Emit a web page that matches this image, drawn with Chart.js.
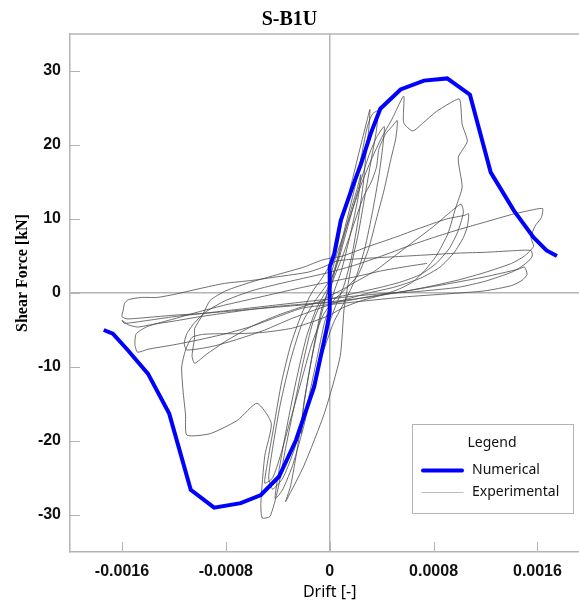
<!DOCTYPE html>
<html>
<head>
<meta charset="utf-8">
<script src="https://cdn.jsdelivr.net/npm/chart.js@4.4.0/dist/chart.umd.min.js"></script>
<style>
  html, body { margin: 0; padding: 0; background: #fff; }
</style>
</head>
<body>
<canvas id="chart" width="579" height="606"></canvas>
<script>
// numerical backbone (drift [-], shear force [kN])
const numDrift = [-0.00174, -0.00167, -0.001556, -0.0014, -0.001236, -0.00107, -0.00089, -0.000685, -0.00053, -0.00039, -0.00026, -0.00012, -0.00002, 0, 0, 0.000035, 0.000085, 0.000175, 0.00024, 0.000315, 0.00039, 0.000546, 0.000726, 0.000905, 0.00108, 0.00124, 0.00142, 0.00157, 0.00167, 0.00175];
const numForce = [-5.0, -5.5, -7.7, -10.9, -16.3, -26.6, -29.0, -28.4, -27.3, -24.8, -19.9, -12.7, -4.6, -2.5, 3.5, 5.3, 9.8, 14.3, 17.4, 21.5, 24.9, 27.5, 28.7, 29.0, 26.8, 16.3, 11.1, 7.5, 5.75, 5.0];

// experimental hysteresis path, [drift, force] in recorded order
const expPath = [
  [0, 0], [0.00004, 3], [0.0001, 7], [0.00016, 11], [0.00021, 14], [0.00024, 16], [0.00022, 13], [0.00016, 8], [0.00009, 3], [0.00003, 0],
  [-0.00004, -4], [-0.0001, -9], [-0.00016, -14], [-0.0002, -17], [-0.00022, -19], [-0.0002, -15], [-0.00014, -9], [-0.00008, -4], [-0.00002, 0],
  [0.00005, 4], [0.00012, 9], [0.00019, 14], [0.00025, 19], [0.00029, 22.5], [0.00033, 24.2], [0.00037, 24.6], [0.00036, 22], [0.00032, 18],
  [0.00027, 13], [0.00022, 8], [0.00017, 4], [0.00013, 0], [0.00011, -2.3], [0.00008, -8.6], [-0.00004, -16.2], [-0.0002, -23.4], [-0.00033, -27.9],
  [-0.00034, -28.2], [-0.0003, -26], [-0.00024, -20], [-0.00018, -13], [-0.00012, -7], [-0.00006, -2], [0.00002, 1.5],
  [0.0001, 5], [0.00018, 9], [0.00026, 13], [0.00032, 15], [0.00036, 17], [0.00038, 19.5], [0.00043, 21.5], [0.00048, 22.5], [0.00052, 23.3],
  [0.00051, 21], [0.00047, 18], [0.00042, 14], [0.00036, 10], [0.0003, 6], [0.00022, 2.5], [0.00012, 0.5], [0.00003, -1], [-0.00005, -3],
  [-0.00014, -7], [-0.00022, -12], [-0.0003, -17], [-0.00038, -22], [-0.00044, -25], [-0.0005, -25.7], [-0.00048, -23], [-0.00043, -18],
  [-0.00037, -12], [-0.0003, -7], [-0.00022, -3], [-0.00014, 0], [-0.00006, 2],
  [0.00004, 5], [0.0001, 10], [0.00017, 15], [0.00024, 20], [0.00029, 23.5], [0.00031, 24.8], [0.0003, 22], [0.00028, 19], [0.00026, 15],
  [0.00022, 10], [0.00017, 5], [0.00011, 1], [0.00004, -2], [-0.00004, -6], [-0.00012, -12], [-0.0002, -18], [-0.00028, -23], [-0.00036, -26.5],
  [-0.00042, -27.8], [-0.0004, -25], [-0.00034, -19], [-0.00026, -12], [-0.00018, -6], [-0.0001, -2], [-0.00002, 0.5],
  [0.00006, 4], [0.00014, 9], [0.00022, 14], [0.0003, 18.5], [0.00036, 21], [0.00042, 22.5], [0.00041, 20], [0.00038, 16], [0.00033, 11],
  [0.00027, 6], [0.0002, 2], [0.00012, -1], [0.00003, -4], [-0.00007, -9], [-0.00017, -15], [-0.00027, -21], [-0.00036, -25], [-0.00044, -26.5],
  [-0.00047, -25], [-0.00044, -21], [-0.00038, -15], [-0.0003, -9], [-0.00021, -4], [-0.00011, -1], [-0.00001, 1.5],
  [0.00005, 5], [0.00015, 10], [0.00025, 15], [0.00032, 18], [0.0004, 21], [0.00048, 23.5], [0.00057, 26.6], [0.00057, 23], [0.00064, 21.9],
  [0.00072, 23], [0.00082, 24.5], [0.00092, 25.6], [0.001, 26.2], [0.00102, 22.8], [0.00106, 20.5], [0.00099, 18.3], [0.00102, 14.3],
  [0.00097, 11.5], [0.00091, 8], [0.00082, 5], [0.00073, 3], [0.00064, 1.5], [0.00053, 0.5], [0.0004, -0.3], [0.00025, -1], [0.0001, -2],
  [0, -3], [-0.00015, -4], [-0.0003, -4.8], [-0.0005, -5.3], [-0.0007, -5.5], [-0.00085, -5.5], [-0.00098, -5.6], [-0.00106, -6],
  [-0.00111, -7.7], [-0.00114, -10], [-0.00113, -13.1], [-0.00111, -16.5], [-0.0011, -19.2], [-0.00092, -19], [-0.00071, -17.2],
  [-0.00056, -14.9], [-0.00045, -17.6], [-0.0005, -22], [-0.00053, -28.4], [-0.00052, -30.4], [-0.00046, -30.2], [-0.0004, -26.6],
  [-0.00034, -21], [-0.00027, -15], [-0.0002, -9], [-0.00013, -4], [-0.00005, -1],
  [0.0001, 0.5], [0.0002, 1.5], [0.00035, 3], [0.0005, 5], [0.00065, 7], [0.0008, 9], [0.00092, 10.8], [0.00101, 12], [0.00103, 11],
  [0.00101, 9.5], [0.00098, 8], [0.00092, 6], [0.00082, 4], [0.0007, 2.5], [0.00055, 1.5], [0.0004, 0.8], [0.0002, 0], [0, -0.8],
  [-0.0002, -1.8], [-0.0004, -3], [-0.0006, -4.5], [-0.0008, -6.5], [-0.00095, -8.3], [-0.00104, -9.5], [-0.00106, -8.5], [-0.00104, -6],
  [-0.00104, -4.8], [-0.00098, -3], [-0.00092, -1], [-0.0008, 0.3], [-0.0006, 1.5], [-0.0004, 2.5], [-0.0002, 3.5], [-0.00005, 4.5],
  [0.0001, 5], [0.0003, 6.3], [0.0005, 7.5], [0.0007, 8.8], [0.0009, 10], [0.00104, 10.5], [0.00107, 10.7], [0.00106, 9], [0.00103, 7.5],
  [0.00096, 5.5], [0.00085, 3.5], [0.0007, 2], [0.0005, 0.8], [0.0003, 0], [0.0001, -1], [-0.0001, -2.2], [-0.0003, -3.5], [-0.0005, -5],
  [-0.0007, -6.2], [-0.0009, -7.2], [-0.0011, -7.7], [-0.00112, -6.8], [-0.0011, -5.5], [-0.00104, -4], [-0.00095, -2.5], [-0.0008, -1],
  [-0.0006, 0.3], [-0.0004, 1.2], [-0.0002, 2], [0, 2.8],
  [0.0002, 3.8], [0.0004, 5], [0.0006, 6.3], [0.0008, 7.5], [0.001, 8.6], [0.0012, 9.6], [0.0014, 10.6], [0.00158, 11.3], [0.00164, 11.4],
  [0.00163, 10.2], [0.00158, 9], [0.00155, 7.5], [0.00157, 6.3], [0.0015, 5], [0.0014, 4], [0.0012, 2.8], [0.001, 1.8], [0.0008, 1],
  [0.0006, 0.3], [0.0004, -0.3], [0.0002, -0.8], [0, -1.2], [-0.0002, -1.6], [-0.0004, -1.9], [-0.0006, -2.2], [-0.0008, -2.5], [-0.001, -2.8],
  [-0.0012, -3], [-0.0014, -3.3], [-0.00156, -3.5], [-0.0016, -3.2], [-0.00159, -2.3], [-0.00158, -1.4], [-0.00155, -0.9], [-0.00145, -0.6],
  [-0.00133, -0.6], [-0.0012, -0.2], [-0.001, 0.6], [-0.00081, 1.3], [-0.0006, 1.7], [-0.0004, 2.2], [-0.00017, 2.8], [-0.00005, 3.5], [0.00005, 4.3],
  [0.0002, 4.6], [0.0004, 4.8], [0.0006, 5], [0.0008, 5.2], [0.001, 5.4], [0.0012, 5.5], [0.0014, 5.7], [0.00155, 5.75], [0.00156, 5],
  [0.00153, 4.3], [0.00148, 3.6], [0.0014, 2.8], [0.0012, 1.6], [0.001, 0.8], [0.0008, 0.4], [0.0006, 0.1], [0.0004, -0.1], [0.0002, -0.4],
  [0, -0.8], [-0.0002, -1.2], [-0.0004, -1.6], [-0.0006, -2], [-0.0008, -2.4], [-0.001, -2.8], [-0.0012, -3.2], [-0.0014, -3.7], [-0.00158, -4.1],
  [-0.0016, -3.7], [-0.00155, -4.3], [-0.00148, -4.6], [-0.00135, -4.2], [-0.0012, -3.8], [-0.001, -3.2], [-0.0008, -2.7], [-0.0006, -2.2],
  [-0.0004, -1.8], [-0.0002, -1.5], [0.00008, -1.2], [0.0003, -0.5], [0.0006, 0.3], [0.0009, 1.2], [0.0012, 2.2], [0.00145, 3.2], [0.0015, 3.5],
  [0.00152, 2.5], [0.00148, 1.7], [0.0014, 1], [0.0012, 0.3], [0.001, 0], [0.0006, -0.5], [0.0002, -1.2], [-0.0002, -2], [-0.0004, -3.2],
  [-0.0006, -4.5], [-0.0008, -5.5], [-0.001, -6.3], [-0.0012, -7], [-0.0014, -7.6], [-0.00148, -8], [-0.0015, -7], [-0.00149, -5.5],
  [-0.0014, -4.5], [-0.0012, -3.5], [-0.001, -2.5], [-0.0008, -1.6], [-0.0006, -0.8], [-0.0004, 0], [-0.0002, 0.8], [0, 1.5], [0.0002, 2.2],
  [0.0004, 3], [0.0006, 3.6], [0.00075, 4]
];

const xTicks = [-0.0016, -0.0008, 0, 0.0008, 0.0016];
const xTickLabels = ['-0.0016', '-0.0008', '0', '0.0008', '0.0016'];
const yTicks = [-30, -20, -10, 0, 10, 20, 30];
const seriesNames = ['Numerical', 'Experimental'];

const axisGray = '#b4b4b4';
const numColor = '#0000ff';
const expColor = '#4a4a4a';

// top border, inward tick marks, axis titles and the boxed legend
const overlay = {
  id: 'overlay',
  afterDraw(chart) {
    const { ctx, chartArea: area } = chart;
    const xs = chart.scales.x, ys = chart.scales.y;
    ctx.save();
    ctx.strokeStyle = axisGray;
    ctx.lineWidth = 1.5;
    ctx.beginPath();
    ctx.moveTo(area.left, area.top);
    ctx.lineTo(area.right, area.top);
    ctx.stroke();

    ctx.lineWidth = 1;
    ctx.beginPath();
    xTicks.forEach(v => {
      const px = Math.round(xs.getPixelForValue(v)) + 0.5;
      ctx.moveTo(px, area.bottom);
      ctx.lineTo(px, area.bottom - 10);
    });
    yTicks.forEach(v => {
      const py = Math.round(ys.getPixelForValue(v)) + 0.5;
      ctx.moveTo(area.left, py);
      ctx.lineTo(area.left + 10, py);
    });
    ctx.stroke();

    // axis titles
    ctx.fillStyle = '#000';
    ctx.textAlign = 'center';
    ctx.textBaseline = 'middle';
    ctx.font = '16px "Noto Sans"';
    ctx.fillText('Drift [-]', xs.getPixelForValue(0), 592);
    ctx.save();
    ctx.translate(23, 273);
    ctx.rotate(-Math.PI / 2);
    ctx.font = 'bold 16px "Liberation Serif"';
    ctx.fillText('Shear Force [kN]', 0, 0);
    ctx.restore();

    // legend box
    const bx = 412, by = 424, bw = 161, bh = 89;
    ctx.fillStyle = '#fff';
    ctx.fillRect(bx, by, bw, bh);
    ctx.strokeStyle = axisGray;
    ctx.lineWidth = 1;
    ctx.strokeRect(bx + 0.5, by + 0.5, bw, bh);
    ctx.fillStyle = '#111';
    ctx.font = '14px "Noto Sans"';
    ctx.textAlign = 'center';
    ctx.fillText('Legend', 492, 443);
    ctx.textAlign = 'left';
    ctx.fillText(seriesNames[0], 472, 470);
    ctx.fillText(seriesNames[1], 472, 492);
    ctx.lineCap = 'round';
    ctx.strokeStyle = numColor;
    ctx.lineWidth = 4;
    ctx.beginPath();
    ctx.moveTo(423, 470.5);
    ctx.lineTo(462, 470.5);
    ctx.stroke();
    ctx.strokeStyle = '#bdbdbd';
    ctx.lineWidth = 1;
    ctx.beginPath();
    ctx.moveTo(422, 492.5);
    ctx.lineTo(463, 492.5);
    ctx.stroke();
    ctx.restore();
  }
};

const ctx = document.getElementById('chart').getContext('2d');
const chart = new Chart(ctx, {
  type: 'scatter',
  data: {
    datasets: [
      {
        label: seriesNames[0],
        data: numDrift.map((d, i) => ({ x: d, y: numForce[i] })),
        showLine: true,
        borderColor: numColor,
        backgroundColor: numColor,
        borderWidth: 4,
        pointRadius: 0,
        tension: 0
      },
      {
        label: seriesNames[1],
        data: expPath.map(p => ({ x: p[0], y: p[1] })),
        showLine: true,
        borderColor: expColor,
        backgroundColor: expColor,
        borderWidth: 0.8,
        pointRadius: 0,
        tension: 0.2
      }
    ]
  },
  options: {
    responsive: false,
    animation: false,
    devicePixelRatio: 1,
    layout: { padding: 0 },
    plugins: {
      legend: { display: false },
      tooltip: { enabled: false },
      title: {
        display: true,
        text: 'S-B1U',
        color: '#000',
        font: { family: '"Liberation Serif"', size: 20, weight: 'bold' },
        padding: { top: 8, bottom: 2 }
      }
    },
    scales: {
      x: {
        type: 'linear',
        min: -0.002,
        max: 0.00192,
        afterBuildTicks: s => { s.ticks = xTicks.map(v => ({ value: v })); },
        afterFit: s => { s.height = 54; },
        ticks: {
          padding: 10,
          color: '#111',
          font: { family: '"Liberation Sans"', size: 16, weight: 'bold' },
          callback: v => xTickLabels[xTicks.indexOf(v)]
        },
        grid: {
          drawTicks: false,
          lineWidth: 1.5,
          color: c => (c.tick && c.tick.value === 0 ? axisGray : 'rgba(0,0,0,0)')
        },
        border: { color: axisGray, width: 1.5 }
      },
      y: {
        type: 'linear',
        min: -35,
        max: 35,
        afterBuildTicks: s => { s.ticks = yTicks.map(v => ({ value: v })); },
        afterFit: s => { s.width = 70; },
        ticks: {
          padding: 9,
          color: '#111',
          font: { family: '"Liberation Sans"', size: 16, weight: 'bold' }
        },
        grid: {
          drawTicks: false,
          lineWidth: 1.5,
          color: c => (c.tick && c.tick.value === 0 ? axisGray : 'rgba(0,0,0,0)')
        },
        border: { color: axisGray, width: 1.5 }
      }
    }
  },
  plugins: [overlay]
});
</script>
</body>
</html>
